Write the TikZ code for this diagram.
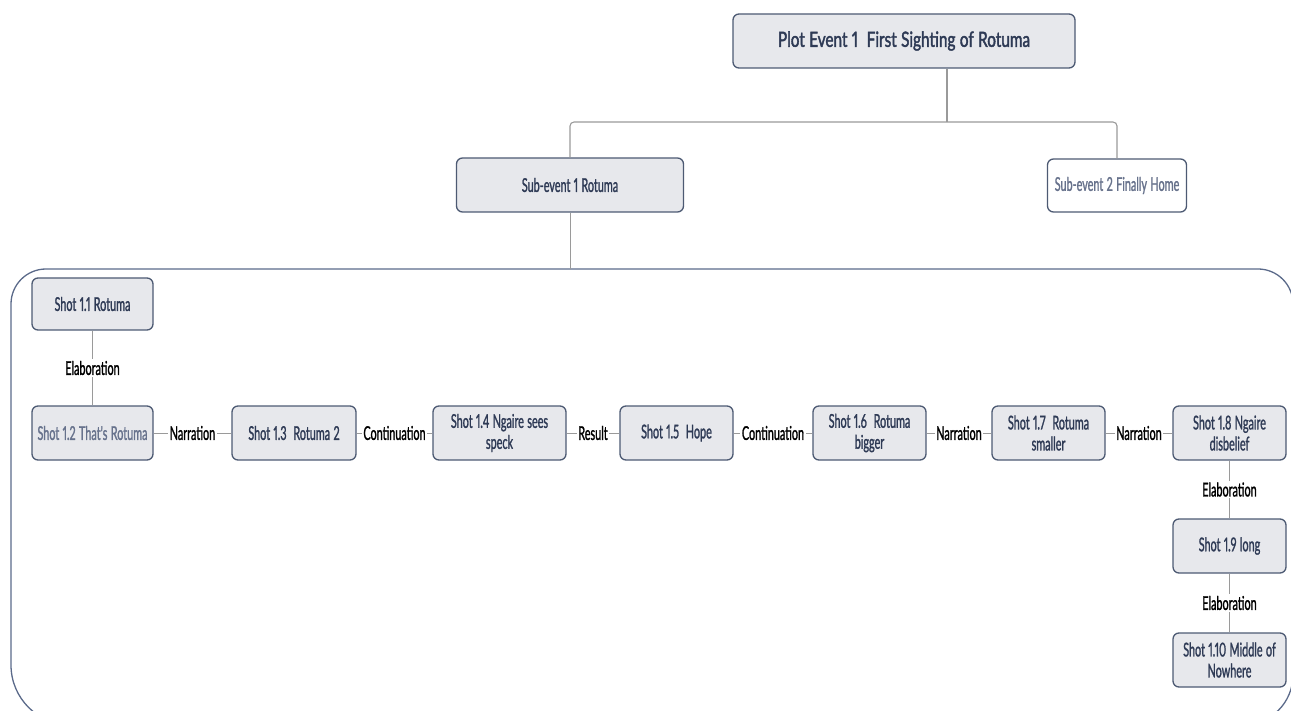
\documentclass[tikz,border=0pt]{standalone}
\usepackage{fontspec}
\newfontfamily\dfont[FakeStretch=0.57,FakeBold=1.2,Numbers=Proportional]{Lato}
\newfontfamily\tfont[FakeStretch=0.73,FakeBold=1.8,Numbers=Proportional]{Lato}
\newcommand{\shotfnt}{\dfont\fontsize{19}{21}\selectfont}
\newcommand{\titlefnt}{\tfont\fontsize{21}{24}\selectfont}
\definecolor{boxfill}{HTML}{E7E8EC}
\definecolor{boxline}{HTML}{4D5A73}
\definecolor{boxtext}{HTML}{2E3A55}
\definecolor{paletext}{HTML}{67728C}
\definecolor{frameline}{HTML}{5B6A8A}
\definecolor{conn}{HTML}{9A9A9A}
\tikzset{
  shotbox/.style={draw=boxline, line width=1.3pt, fill=boxfill, rounded corners=6pt,
    minimum width=113pt, minimum height=54pt, text width=#1, align=center,
    text=boxtext, font=\shotfnt, inner sep=0pt,
    execute at begin node={\spaceskip=3.4pt\relax\xspaceskip=3.4pt\relax}},
  shotbox/.default=105pt,
  lbl/.style={fill=white, inner sep=1.5pt, text=black, font=\shotfnt},
  conline/.style={draw=conn, line width=1pt},
  treeline/.style={draw=conn, line width=1.1pt, rounded corners=4pt},
}
\begin{document}
\begin{tikzpicture}[x=1pt,y=-1pt]
\useasboundingbox (0,0) rectangle (1291,711);
\clip (0,0) rectangle (1291,711);
% frame
\draw[frameline, line width=1.3pt]
  (11,304) arc[start angle=180, end angle=270, radius=35] -- (1258,269)
  arc[start angle=-90, end angle=0, radius=35] -- (1293,675)
  arc[start angle=0, end angle=90, radius=50] -- (71,725)
  arc[start angle=90, end angle=180, radius=60] -- cycle;
\coordinate (frametop) at (572,269);

% top level
\node[shotbox=330pt, minimum width=342pt, minimum height=54pt, font=\titlefnt,
  execute at begin node={\spaceskip=4.4pt\relax}] (top) at (904,41) {Plot Event 1\hspace{4.4pt} First Sighting of Rotuma};
\node[shotbox=220pt, minimum width=227pt] (sub1) at (570,185) {Sub-event 1 Rotuma};
\node[shotbox=134pt, minimum width=139pt, minimum height=53pt, fill=white, text=paletext] (sub2) at (1117,185.5) {Sub-event 2 Finally Home};

\coordinate (j) at (947,122);
\draw[treeline] (top.south -| j) -- (j);
\draw[treeline] (sub1.north) |- (j) -| (sub2.north);
\draw[conline] (sub1.south) -- (sub1.south |- frametop);

% shots
\node[shotbox=117pt, minimum width=121pt, minimum height=52pt] (s11) at (92.5,304) {Shot 1.1 Rotuma};
\node[shotbox=117pt, minimum width=121pt, text=paletext] (s12) at (92.5,433) {Shot 1.2 That's Rotuma};
\node[shotbox=118pt, minimum width=124pt] (s13) at (294,433) {Shot 1.3\hspace{3.4pt} Rotuma 2};
\node[shotbox=118pt, minimum width=133pt] (s14) at (499.5,433) {Shot 1.4 Ngaire sees\\speck};
\node[shotbox] (s15) at (676.5,433) {Shot 1.5\hspace{3.4pt} Hope};
\node[shotbox] (s16) at (869.5,433) {Shot 1.6\hspace{3.4pt} Rotuma\\bigger};
\node[shotbox] (s17) at (1048.5,433) {Shot 1.7\hspace{3.4pt} Rotuma\\smaller};
\node[shotbox] (s18) at (1229.5,433) {Shot 1.8 Ngaire\\disbelief};
\node[shotbox] (s19) at (1229.5,546) {Shot 1.9 long};
\node[shotbox=110pt] (s110) at (1229.5,660) {Shot 1.10 Middle of\\Nowhere};

% relations
\draw[conline] (s11) -- node[lbl]{Elaboration} (s12);
\draw[conline] (s12) -- node[lbl]{Narration} (s13);
\draw[conline] (s13) -- node[lbl]{Continuation} (s14);
\draw[conline] (s14) -- node[lbl]{Result} (s15);
\draw[conline] (s15) -- node[lbl]{Continuation} (s16);
\draw[conline] (s16) -- node[lbl]{Narration} (s17);
\draw[conline] (s17) -- node[lbl]{Narration} (s18);
\draw[conline] (s18) -- node[lbl]{Elaboration} (s19);
\draw[conline] (s19) -- node[lbl]{Elaboration} (s110);
\end{tikzpicture}
\end{document}
